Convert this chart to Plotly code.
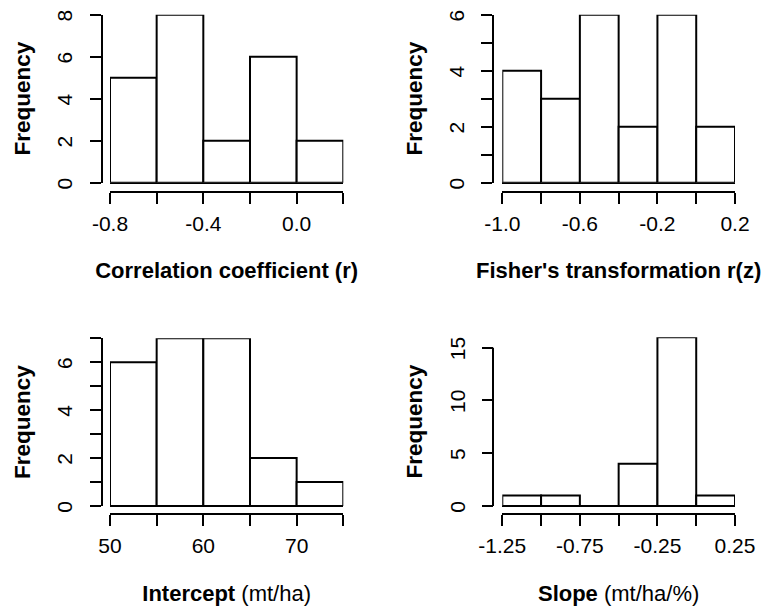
import plotly.graph_objects as go

# ---------------- data ----------------
r_edges = [-0.8, -0.6, -0.4, -0.2, 0.0, 0.2]
r_counts = [5, 8, 2, 6, 2]
r_xlabels = ["-0.8", "", "-0.4", "", "0.0", ""]
r_yticks = [0, 2, 4, 6, 8]
r_ylabels = ["0", "2", "4", "6", "8"]

z_edges = [-1.0, -0.8, -0.6, -0.4, -0.2, 0.0, 0.2]
z_counts = [4, 3, 6, 2, 6, 2]
z_xlabels = ["-1.0", "", "-0.6", "", "-0.2", "", "0.2"]
z_yticks = [0, 1, 2, 3, 4, 5, 6]
z_ylabels = ["0", "", "2", "", "4", "", "6"]

int_edges = [50, 55, 60, 65, 70, 75]
int_counts = [6, 7, 7, 2, 1]
int_xlabels = ["50", "", "60", "", "70", ""]
int_yticks = [0, 1, 2, 3, 4, 5, 6, 7]
int_ylabels = ["0", "", "2", "", "4", "", "6", ""]

slope_edges = [-1.25, -1.0, -0.75, -0.5, -0.25, 0.0, 0.25]
slope_counts = [1, 1, 0, 4, 16, 1]
slope_xlabels = ["-1.25", "", "-0.75", "", "-0.25", "", "0.25"]
slope_yticks = [0, 5, 10, 15]
slope_ylabels = ["0", "5", "10", "15"]

titles_x = ["<b>Correlation coefficient (r)</b>",
            "<b>Fisher's transformation r(z)</b>",
            "<b>Intercept</b> (mt/ha)",
            "<b>Slope</b> (mt/ha/%)"]
title_y = "<b>Frequency</b>"

# ---------------- layout geometry (pixels) ----------------
W, H = 775, 609
OFF = 8  # page body margin of the html page
FONT = "Liberation Sans, Arial, sans-serif"


def px(x):
    return (x - OFF) / W


def py(y):
    return 1 - (y - OFF) / H


panels = [
    dict(edges=r_edges, counts=r_counts, xlab=r_xlabels, yt=r_yticks, ylab=r_ylabels,
         xpix=(110, 343.3), y0pix=182.7, ytoppix=14.7, ytop=8, ylinex=101.5, xliney=191.5),
    dict(edges=z_edges, counts=z_counts, xlab=z_xlabels, yt=z_yticks, ylab=z_ylabels,
         xpix=(502.3, 735), y0pix=182.7, ytoppix=14.7, ytop=6, ylinex=493, xliney=191.5),
    dict(edges=int_edges, counts=int_counts, xlab=int_xlabels, yt=int_yticks, ylab=int_ylabels,
         xpix=(110, 343.3), y0pix=506, ytoppix=338.3, ytop=7, ylinex=101.5, xliney=514),
    dict(edges=slope_edges, counts=slope_counts, xlab=slope_xlabels, yt=slope_yticks, ylab=slope_ylabels,
         xpix=(502.3, 735), y0pix=506, ytoppix=347.7, ytop=15, ylinex=493, xliney=514),
]

fig = go.Figure()
layout = dict(
    width=W, height=H,
    margin=dict(l=0, r=0, t=0, b=0, autoexpand=False),
    paper_bgcolor="white", plot_bgcolor="rgba(0,0,0,0)",
    showlegend=False,
    font=dict(family=FONT, color="black", size=21),
)
shapes = []

for i, p in enumerate(panels, start=1):
    e = p["edges"]
    centers = [(a + b) / 2 for a, b in zip(e[:-1], e[1:])]
    widths = [b - a for a, b in zip(e[:-1], e[1:])]
    ymax = max(max(p["counts"]), p["ytop"])
    ppu = (p["y0pix"] - p["ytoppix"]) / p["ytop"]
    dom_top_pix = p["y0pix"] - ppu * ymax
    fig.add_trace(go.Bar(
        x=centers, y=p["counts"], width=widths,
        marker=dict(color="white", line=dict(color="black", width=2)),
        xaxis=f"x{i}", yaxis=f"y{i}", cliponaxis=False, hoverinfo="x+y",
    ))
    layout[f"xaxis{i}"] = dict(
        domain=[px(p["xpix"][0]), px(p["xpix"][1])],
        range=[e[0], e[-1]], anchor="free", position=py(p["xliney"]),
        automargin=False,
        showline=True, linecolor="black", linewidth=2,
        ticks="outside", ticklen=11, tickwidth=2, tickcolor="black",
        tickvals=e, ticktext=p["xlab"], showgrid=False, zeroline=False,
        ticklabelstandoff=2, ticklabeloverflow="allow",
        tickfont=dict(size=21, family=FONT),
        title=dict(text=titles_x[i - 1], font=dict(size=22, family=FONT), standoff=28),
    )
    layout[f"yaxis{i}"] = dict(
        domain=[py(p["y0pix"]), py(dom_top_pix)],
        range=[0, ymax], anchor="free", position=px(p["ylinex"]),
        automargin=False,
        showline=(ymax == p["ytop"]), linecolor="black", linewidth=2,
        ticks="outside", ticklen=11, tickwidth=2, tickcolor="black",
        tickvals=p["yt"], ticktext=p["ylab"], tickangle=-90,
        ticklabelstandoff=9, ticklabelshift=4, ticklabeloverflow="allow",
        showgrid=False, zeroline=True, zerolinecolor="black", zerolinewidth=2,
        tickfont=dict(size=21, family=FONT),
        title=dict(text=title_y, font=dict(size=22.5, family=FONT), standoff=15),
    )
    if ymax != p["ytop"]:
        shapes.append(dict(type="line", xref="paper", yref=f"y{i}",
                           x0=px(p["ylinex"]), x1=px(p["ylinex"]),
                           y0=0, y1=p["ytop"], line=dict(color="black", width=2)))

layout["shapes"] = shapes
fig.update_layout(**layout)
fig.write_html("out.html")
